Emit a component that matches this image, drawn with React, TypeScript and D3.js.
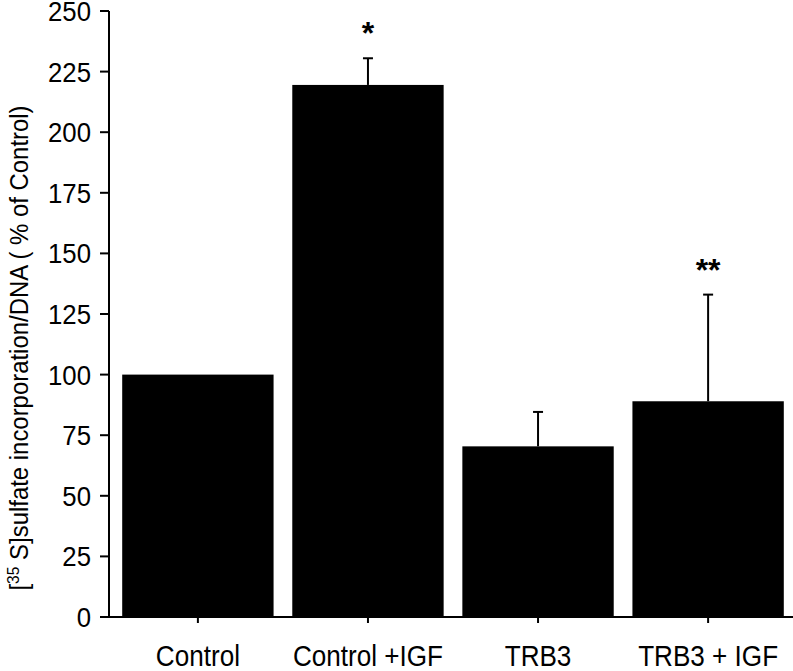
import React from "react";
import * as d3 from "d3";

const categories = ["Control", "Control +IGF", "TRB3", "TRB3 + IGF"];
const values = [100, 219.5, 70.4, 89];
const errors = [0, 11, 14.2, 44];
const stars = ["", "*", "", "**"];
const yTicks = [0, 25, 50, 75, 100, 125, 150, 175, 200, 225, 250];

const W = 793;
const H = 671;
const axisX = 109;
const y0 = 617;
const yTop = 11;

export default function App() {
  const y = d3.scaleLinear().domain([0, 250]).range([y0, yTop]);
  const x = d3.scaleBand().domain(categories).range([112, 794]).paddingInner(0.11).paddingOuter(0.06);
  const font = "'Liberation Sans', Arial, sans-serif";
  return (
    <svg width={W} height={H} style={{ position: "absolute", left: 0, top: 0 }} fontFamily={font}>
      {categories.map((c, i) => {
        const bx = x(c)!;
        const bw = x.bandwidth();
        const cx = bx + bw / 2;
        const top = y(values[i]);
        const errTop = y(values[i] + errors[i]);
        return (
          <g key={c}>
            <rect x={bx} y={top} width={bw} height={y0 - top} fill="#000" />
            {errors[i] > 0 && (
              <g stroke="#000" strokeWidth={2}>
                <line x1={cx} x2={cx} y1={top} y2={errTop} />
                <line x1={cx - 5} x2={cx + 5} y1={errTop} y2={errTop} />
              </g>
            )}
            {stars[i] && (
              <text x={cx} y={errTop - 14} textAnchor="middle" fontSize={32} fontWeight="bold">
                {stars[i]}
              </text>
            )}
            <line x1={cx} x2={cx} y1={y0} y2={y0 + 6} stroke="#000" strokeWidth={2} />
            <g transform={`translate(${cx},${666}) scale(0.9,1)`}>
              <text x={0} y={0} textAnchor="middle" fontSize={29}>
                {c}
              </text>
            </g>
          </g>
        );
      })}
      <line x1={axisX} x2={axisX} y1={yTop} y2={y0} stroke="#000" strokeWidth={2} />
      <line x1={100} x2={W} y1={y0} y2={y0} stroke="#000" strokeWidth={2} />
      {yTicks.map((t) => (
        <g key={t}>
          <line x1={100} x2={axisX} y1={y(t)} y2={y(t)} stroke="#000" strokeWidth={2} />
          <g transform={`translate(${91},${y(t) + 10}) scale(0.92,1)`}>
            <text x={0} y={0} textAnchor="end" fontSize={28}>
              {t}
            </text>
          </g>
        </g>
      ))}
      <g transform={`translate(${28},${348}) rotate(-90) scale(0.92,1)`}>
        <text x={0} y={0} textAnchor="middle" fontSize={26}>
          <tspan>[</tspan>
          <tspan fontSize={17} dy={-9}>35</tspan>
          <tspan dy={9}> S]sulfate incorporation/DNA ( % of Control)</tspan>
        </text>
      </g>
    </svg>
  );
}
